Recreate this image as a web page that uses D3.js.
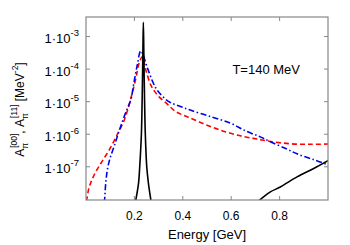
<!DOCTYPE html>
<meta charset="utf-8">
<style>
body { margin: 0; background: #fff; }
svg { font-family: "Liberation Sans", Arial, Helvetica, sans-serif; }
.frame { fill: none; stroke: #888; stroke-width: 1.2; }
.tick line { stroke: #888; stroke-width: 1; }
.line { fill: none; }
</style>
<body>
<script src="https://d3js.org/d3.v7.min.js"></script>
<script>

// energy [GeV] and spectral function values
var blackPeak = [[0.200, 5e-9], [0.206, 9.5e-9], [0.217, 3.1e-8], [0.222, 1e-7], [0.229, 1.07e-6],
  [0.232, 1.1e-5], [0.235, 3.2e-4], [0.237, 2.75e-3], [0.239, 3.2e-4], [0.242, 1.1e-5],
  [0.245, 1.07e-6], [0.251, 1e-7], [0.258, 3.1e-8], [0.268, 9.5e-9], [0.274, 5e-9]];
var blackHigh = [[0.71, 7.9e-9], [0.718, 9.5e-9], [0.734, 1.2e-8], [0.762, 1.7e-8], [0.803, 2.4e-8],
  [0.872, 4.9e-8], [0.941, 8.9e-8], [1.0, 1.55e-7]];
var redA00 = [[0.0, 8.9e-9], [0.003, 1e-8], [0.012, 2.2e-8], [0.033, 5.5e-8], [0.061, 1.26e-7],
  [0.095, 3.2e-7], [0.13, 1.0e-6], [0.157, 2.6e-6], [0.178, 7.9e-6], [0.206, 5.2e-5],
  [0.219, 1.5e-4], [0.233, 2.4e-4], [0.247, 9.5e-5], [0.268, 3.2e-5], [0.285, 2e-5],
  [0.302, 1.4e-5], [0.337, 8.3e-6], [0.37, 5e-6], [0.42, 3.4e-6], [0.5, 1.9e-6],
  [0.575, 1.2e-6], [0.65, 8.5e-7], [0.707, 7.1e-7], [0.762, 6e-7], [0.845, 5.1e-7],
  [0.93, 4.9e-7], [1.0, 5.0e-7]];
var blueA11 = [[0.075, 7.9e-9], [0.077, 1e-8], [0.0815, 3.1e-8], [0.088, 7.9e-8], [0.099, 1.8e-7],
  [0.116, 4.2e-7], [0.13, 8.8e-7], [0.144, 1.8e-6], [0.164, 4.6e-6], [0.185, 1.15e-5],
  [0.199, 4.2e-5], [0.212, 1.35e-4], [0.2265, 3.6e-4], [0.254, 1.07e-4], [0.275, 4.2e-5],
  [0.29, 2.5e-5], [0.309, 1.66e-5], [0.33, 1.17e-5], [0.35, 9.3e-6], [0.39, 7.1e-6],
  [0.431, 5.5e-6], [0.513, 3.5e-6], [0.596, 2.2e-6], [0.66, 1.26e-6], [0.72, 8.3e-7],
  [0.762, 5.9e-7], [0.83, 3.5e-7], [0.872, 2.5e-7], [0.94, 1.66e-7], [1.0, 1.15e-7]];

var xTicks = [0.2, 0.4, 0.6, 0.8];
var yTicks = [1e-3, 1e-4, 1e-5, 1e-6, 1e-7];

var margin = {top: 17, right: 22, bottom: 45, left: 86},
    width = 350 - margin.left - margin.right,
    height = 245 - margin.top - margin.bottom;

var svg = d3.select("body").append("svg")
    .attr("width", 350)
    .attr("height", 245)
  .append("g")
    .attr("transform", "translate(" + margin.left + "," + margin.top + ")");

var x = d3.scaleLinear().domain([0, 1]).range([0, width]);
var y = d3.scaleLog().domain([Math.pow(10, -8.02), Math.pow(10, -2.4)]).range([height, 0]);

svg.append("clipPath").attr("id", "clip")
  .append("rect").attr("width", width).attr("height", height);

// ticks, mirrored on all four sides
var tl = 4;
var xt = svg.append("g").attr("class", "tick");
xTicks.forEach(function(t) {
  xt.append("line").attr("x1", x(t)).attr("x2", x(t)).attr("y1", height).attr("y2", height - tl);
  xt.append("line").attr("x1", x(t)).attr("x2", x(t)).attr("y1", 0).attr("y2", tl);
  svg.append("text")
      .attr("x", x(t)).attr("y", height + 20)
      .attr("text-anchor", "middle")
      .style("font-size", "12px")
      .text(d3.format(".1f")(t));
});
yTicks.forEach(function(t) {
  xt.append("line").attr("x1", 0).attr("x2", tl).attr("y1", y(t)).attr("y2", y(t));
  xt.append("line").attr("x1", width).attr("x2", width - tl).attr("y1", y(t)).attr("y2", y(t));
  var lab = svg.append("text")
      .attr("x", -7).attr("y", y(t) + 6.5)
      .attr("text-anchor", "end")
      .style("font-size", "13px");
  lab.append("tspan").text("1\u00b710");
  lab.append("tspan").attr("dy", -7).style("font-size", "9.5px")
      .text("-" + Math.round(-Math.log10(t)));
});

var line = d3.line()
    .x(function(d) { return x(d[0]); })
    .y(function(d) { return y(d[1]); })
    .curve(d3.curveCatmullRom.alpha(0.5));

var plot = svg.append("g").attr("clip-path", "url(#clip)");

plot.append("path").datum(redA00).attr("class", "line")
    .attr("d", line).attr("stroke", "#f00").attr("stroke-width", 1.6)
    .attr("stroke-dasharray", "5,3");
plot.append("path").datum(blueA11).attr("class", "line")
    .attr("d", line).attr("stroke", "#0000e6").attr("stroke-width", 1.6)
    .attr("stroke-dasharray", "6,2.5,1.5,2.5");
plot.append("path").datum(blackPeak).attr("class", "line")
    .attr("d", line).attr("stroke", "#000").attr("stroke-width", 1.6);
plot.append("path").datum(blackHigh).attr("class", "line")
    .attr("d", line).attr("stroke", "#000").attr("stroke-width", 1.6);

svg.append("rect").attr("class", "frame").attr("width", width).attr("height", height);

svg.append("text")
    .attr("x", x(0.605)).attr("y", 57)
    .style("font-size", "13px")
    .text("T=140 MeV");

svg.append("text")
    .attr("x", width / 2).attr("y", height + 39)
    .attr("text-anchor", "middle")
    .style("font-size", "13px")
    .text("Energy [GeV]");

var yl = svg.append("text")
    .attr("transform", "translate(" + (-62) + "," + (height / 2 + 1) + ") rotate(-90)")
    .attr("text-anchor", "middle")
    .style("font-size", "12px");
yl.append("tspan").text("A");
yl.append("tspan").attr("dy", 4).style("font-size", "8.5px").text("\u03c0");
yl.append("tspan").attr("dx", -5).attr("dy", -11).style("font-size", "8.5px").text("[00]");
yl.append("tspan").attr("dy", 7).text(", A");
yl.append("tspan").attr("dy", 4).style("font-size", "8.5px").text("\u03c0");
yl.append("tspan").attr("dx", -5).attr("dy", -11).style("font-size", "8.5px").text("[11]");
yl.append("tspan").attr("dy", 7).text(" [MeV");
yl.append("tspan").attr("dy", -6).style("font-size", "8.5px").text("-2");
yl.append("tspan").attr("dy", 6).text("]");

</script>
